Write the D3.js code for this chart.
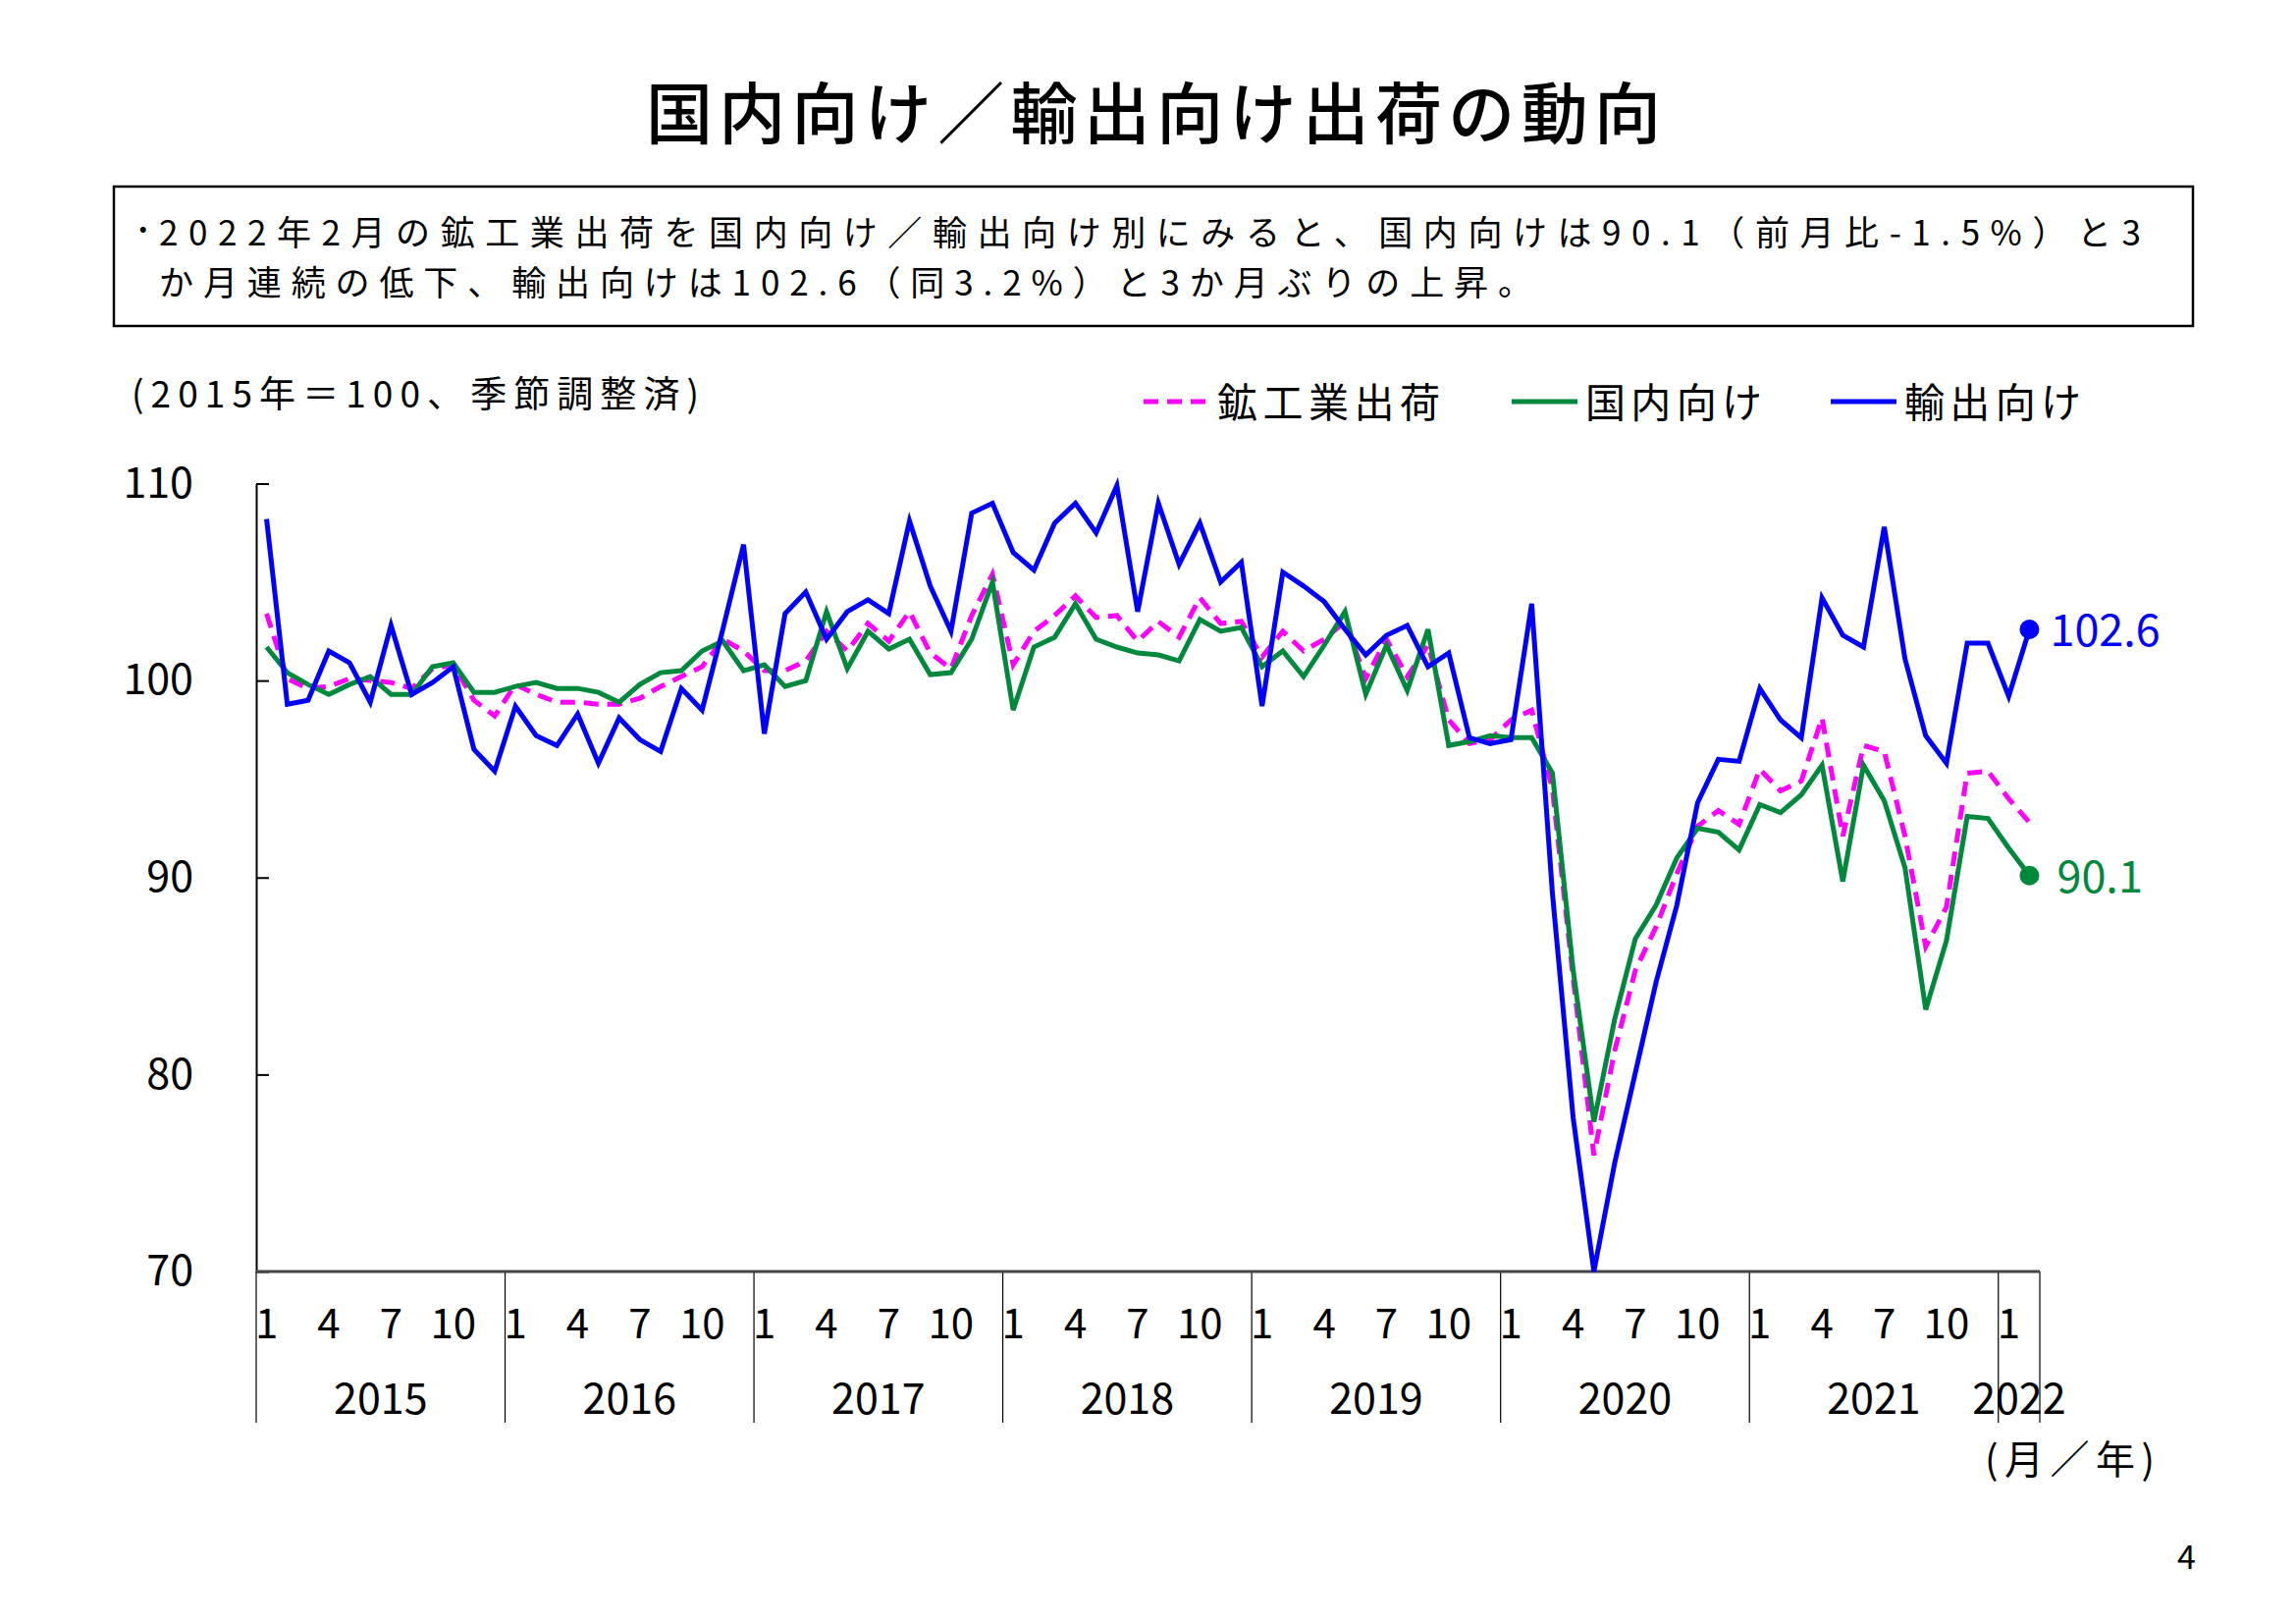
<!DOCTYPE html>
<html>
<head>
<meta charset="utf-8">
<script src="https://cdn.jsdelivr.net/npm/d3@7/dist/d3.min.js"></script>
<style>
body { margin: 0; background: #fff; }
text { font-family: 'Noto Sans CJK JP', 'Noto Sans', sans-serif; fill: #000; }
</style>
</head>
<body>
<script>
const width = 2339
const height = 1654

// data: 2015年=100, 季節調整済, 2015/1 - 2022/2
const years = ['2015', '2016', '2017', '2018', '2019', '2020', '2021', '2022']
const lastYearMonths = 2
const monthTicks = [1, 4, 7, 10]
const yTicks = [70, 80, 90, 100, 110]
const seriesNames = ['鉱工業出荷', '国内向け', '輸出向け']

const shipTotal = [
    103.4, 100.1, 99.6, 99.7, 100.1, 100.0, 99.9, 99.6, 100.6, 100.8, 99.0, 98.2,
    99.8, 99.3, 98.9, 98.9, 98.8, 98.8, 99.1, 99.7, 100.2, 100.7, 102.1, 101.5,
    100.5, 100.5, 101.0, 102.5, 101.5, 102.9, 102.0, 103.5, 101.4, 100.6, 103.3, 105.4,
    100.8, 102.5, 103.3, 104.3, 103.2, 103.3, 102.0, 103.0, 102.2, 104.2, 102.9, 103.0,
    101.2, 102.5, 101.5, 102.1, 103.0, 100.1, 102.1, 100.2, 101.8, 98.0, 96.8, 97.0,
    98.0, 98.5, 94.5, 84.9, 75.9, 81.2, 85.3, 87.5, 90.2, 92.6, 93.4, 92.7,
    95.5, 94.4, 94.9, 98.1, 92.1, 96.7, 96.4, 92.1, 86.5, 88.5, 95.3, 95.4,
    94.0, 92.8
]
const shipDomestic = [
    101.7, 100.4, 99.8, 99.3, 99.8, 100.2, 99.3, 99.3, 100.7, 100.9, 99.4, 99.4,
    99.7, 99.9, 99.6, 99.6, 99.4, 98.9, 99.8, 100.4, 100.5, 101.5, 102.0, 100.5,
    100.8, 99.7, 100.0, 103.5, 100.6, 102.5, 101.6, 102.1, 100.3, 100.4, 102.1, 105.0,
    98.5, 101.7, 102.2, 103.9, 102.1, 101.7, 101.4, 101.3, 101.0, 103.1, 102.5, 102.7,
    100.7, 101.5, 100.2, 101.8, 103.5, 99.3, 101.8, 99.5, 102.6, 96.7, 96.9, 97.2,
    97.1, 97.1, 95.3, 85.3, 77.6, 82.8, 86.9, 88.6, 91.0, 92.5, 92.3, 91.4,
    93.7, 93.3, 94.2, 95.7, 89.8, 95.7, 93.9, 90.5, 83.3, 86.8, 93.1, 93.0,
    91.5, 90.1
]
const shipExport = [
    108.2, 98.8, 99.0, 101.5, 100.9, 98.9, 102.8, 99.3, 99.9, 100.7, 96.5, 95.4,
    98.7, 97.2, 96.7, 98.3, 95.8, 98.1, 97.0, 96.4, 99.6, 98.5, 102.6, 106.9,
    97.3, 103.4, 104.5, 102.1, 103.5, 104.1, 103.4, 108.1, 104.8, 102.5, 108.5, 109.0,
    106.5, 105.6, 108.0, 109.0, 107.5, 109.9, 103.5, 109.0, 105.9, 108.0, 105.0, 106.0,
    98.7, 105.5, 104.8, 104.0, 102.6, 101.3, 102.3, 102.8, 100.7, 101.4, 97.1, 96.8,
    97.0, 103.9, 89.2, 77.8, 70.0, 75.5, 80.1, 84.7, 88.6, 93.8, 96.0, 95.9,
    99.6, 98.0, 97.1, 104.2, 102.3, 101.7, 107.8, 101.1, 97.2, 95.8, 101.9, 101.9,
    99.2, 102.6
]

const colors = {total: '#ff00ff', domestic: '#00893c', export: '#0000ff'}

// periods (year, month)
let periods = []
years.forEach((yr, k) => {
    const n = k == years.length - 1 ? lastYearMonths : 12
    for (let m = 1; m <= n; m++) periods.push({year: yr, month: m})
})

const svg = d3.select('body').append('svg')
    .attr('width', width)
    .attr('height', height)

// scales
const x = d3.scaleBand()
    .domain(d3.range(periods.length))
    .range([261, 2078])
const y = d3.scaleLinear()
    .domain([70, 110])
    .range([1295, 492.5])
const cx = i => x(i) + x.bandwidth() / 2

// title
svg.append('text')
    .attr('x', 1175)
    .attr('y', 111)
    .attr('text-anchor', 'middle')
    .attr('dominant-baseline', 'central')
    .attr('font-size', 68)
    .attr('font-weight', 500)
    .attr('textLength', 1034)
    .attr('lengthAdjust', 'spacing')
    .text('国内向け／輸出向け出荷の動向')

// summary box
svg.append('rect')
    .attr('x', 116)
    .attr('y', 190)
    .attr('width', 2118)
    .attr('height', 142)
    .attr('fill', 'none')
    .attr('stroke', '#000')
    .attr('stroke-width', 2.5)

svg.append('text')
    .attr('x', 137)
    .attr('y', 231)
    .attr('dominant-baseline', 'central')
    .attr('font-size', 35)
    .text('･')

const boxLines = [
    {text: '2022年2月の鉱工業出荷を国内向け／輸出向け別にみると、国内向けは90.1（前月比-1.5%）と3', y: 234, len: 2019},
    {text: 'か月連続の低下、輸出向けは102.6（同3.2%）と3か月ぶりの上昇。', y: 285, len: 1399}
]
svg.selectAll('.box-line')
    .data(boxLines)
    .enter()
    .append('text')
    .attr('class', 'box-line')
    .attr('x', 162)
    .attr('y', d => d.y)
    .attr('dominant-baseline', 'central')
    .attr('font-size', 35)
    .attr('textLength', d => d.len)
    .attr('lengthAdjust', 'spacing')
    .text(d => d.text)

// unit label
svg.append('text')
    .attr('x', 134)
    .attr('y', 399)
    .attr('dominant-baseline', 'central')
    .attr('font-size', 37)
    .attr('textLength', 578)
    .attr('lengthAdjust', 'spacing')
    .text('(2015年＝100、季節調整済)')

// legend
const legend = [
    {name: seriesNames[0], color: colors.total, dash: '15 9', x: 1165, len: 227},
    {name: seriesNames[1], color: colors.domestic, dash: null, x: 1540, len: 180},
    {name: seriesNames[2], color: colors.export, dash: null, x: 1865, len: 180}
]
legend.forEach(d => {
    svg.append('line')
        .attr('x1', d.x)
        .attr('x2', d.x + 67)
        .attr('y1', 409)
        .attr('y2', 409)
        .attr('stroke', d.color)
        .attr('stroke-width', 5)
        .attr('stroke-dasharray', d.dash)
    svg.append('text')
        .attr('x', d.x + 75)
        .attr('y', 407)
        .attr('dominant-baseline', 'central')
        .attr('font-size', 41)
        .attr('textLength', d.len)
        .attr('lengthAdjust', 'spacing')
        .text(d.name)
})

// y axis
const yAxis = d3.axisLeft(y)
    .tickValues(yTicks)
    .tickSizeInner(-13)
    .tickSizeOuter(0)
    .tickPadding(64)
svg.append('g')
    .attr('class', 'y-axis')
    .attr('transform', 'translate(261,0)')
    .call(yAxis)
    .call(g => g.select('.domain').attr('stroke', '#000').attr('stroke-width', 2))
    .call(g => g.selectAll('.tick line').attr('stroke', '#000').attr('stroke-width', 2))
    .call(g => g.selectAll('.tick text')
        .attr('font-size', 43)
        .attr('font-family', "'Noto Sans CJK JP', sans-serif")
        .attr('fill', '#000'))

// x axis: year separators and labels
const yearStarts = d3.range(periods.length).filter(i => periods[i].month == 1)
const sepX = yearStarts.map(i => x(i)).concat([x.range()[1]])
svg.selectAll('.sep')
    .data(sepX)
    .enter()
    .append('line')
    .attr('class', 'sep')
    .attr('x1', d => d)
    .attr('x2', d => d)
    .attr('y1', y(70))
    .attr('y2', 1449)
    .attr('stroke', '#000')
    .attr('stroke-width', 1.2)

svg.append('line')
    .attr('x1', x.range()[0])
    .attr('x2', x.range()[1])
    .attr('y1', y(70))
    .attr('y2', y(70))
    .attr('stroke', '#444')
    .attr('stroke-width', 3)

svg.selectAll('.month-label')
    .data(d3.range(periods.length).filter(i => monthTicks.includes(periods[i].month)))
    .enter()
    .append('text')
    .attr('class', 'month-label')
    .attr('x', i => cx(i))
    .attr('y', 1344)
    .attr('text-anchor', 'middle')
    .attr('dominant-baseline', 'central')
    .attr('font-size', 42)
    .text(i => periods[i].month)

svg.selectAll('.year-label')
    .data(years)
    .enter()
    .append('text')
    .attr('class', 'year-label')
    .attr('x', (yr, k) => (sepX[k] + sepX[k + 1]) / 2)
    .attr('y', 1421)
    .attr('text-anchor', 'middle')
    .attr('dominant-baseline', 'central')
    .attr('font-size', 43)
    .text(yr => yr)

svg.append('text')
    .attr('x', 2022)
    .attr('y', 1484)
    .attr('dominant-baseline', 'central')
    .attr('font-size', 40)
    .attr('textLength', 173)
    .attr('lengthAdjust', 'spacing')
    .text('(月／年)')

// lines
const line = d3.line()
    .x((d, i) => cx(i))
    .y(d => y(d))

const series = [
    {values: shipTotal, color: colors.total, dash: '15 9'},
    {values: shipDomestic, color: colors.domestic, dash: null},
    {values: shipExport, color: colors.export, dash: null}
]
series.forEach(s => {
    svg.append('path')
        .datum(s.values)
        .attr('fill', 'none')
        .attr('stroke', s.color)
        .attr('stroke-width', 5)
        .attr('stroke-linejoin', 'miter')
        .attr('stroke-dasharray', s.dash)
        .attr('d', line)
})

// end markers and labels
const last = periods.length - 1
const endLabels = [
    {value: shipExport[last], color: colors.export, dx: 21},
    {value: shipDomestic[last], color: colors.domestic, dx: 28}
]
endLabels.forEach(d => {
    svg.append('circle')
        .attr('cx', cx(last))
        .attr('cy', y(d.value))
        .attr('r', 10)
        .attr('fill', d.color)
    svg.append('text')
        .attr('x', cx(last) + d.dx)
        .attr('y', y(d.value) - 2)
        .attr('dominant-baseline', 'central')
        .attr('font-size', 45)
        .style('fill', d.color)
        .text(d3.format('.1f')(d.value))
})

// page number
svg.append('text')
    .attr('x', 2218)
    .attr('y', 1583)
    .attr('dominant-baseline', 'central')
    .attr('font-size', 34)
    .text('4')
</script>
</body>
</html>
